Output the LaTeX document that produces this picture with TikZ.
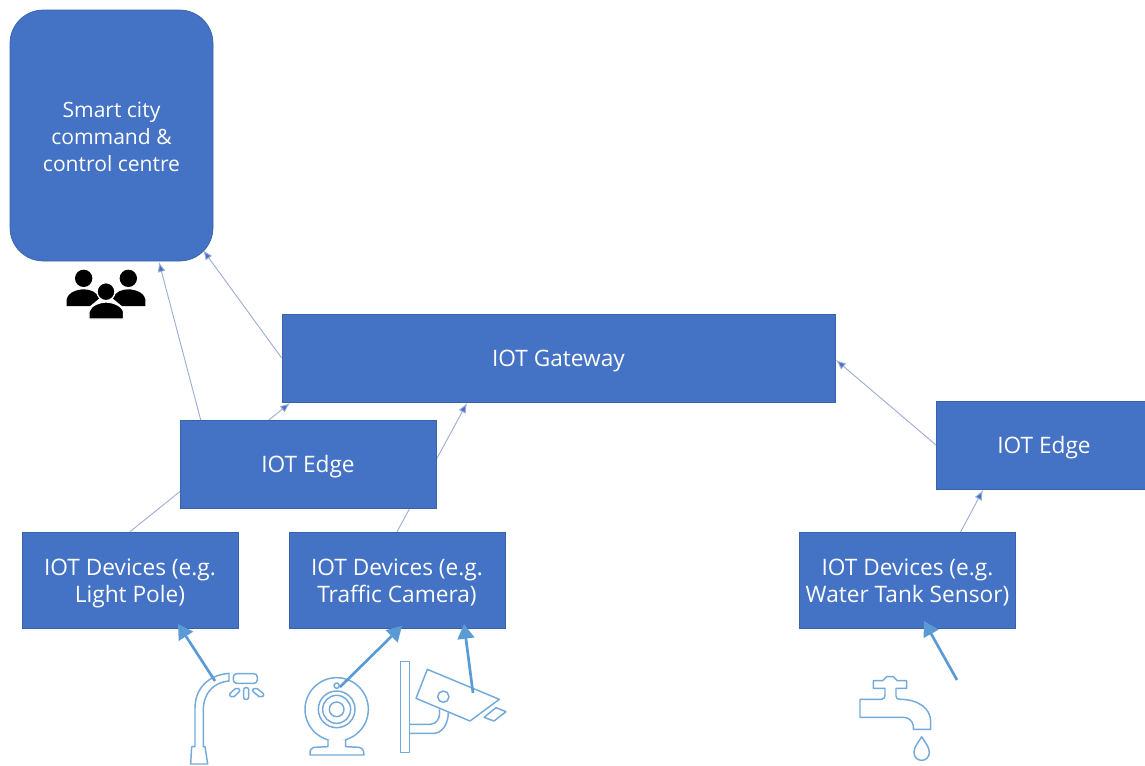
\documentclass[tikz,border=0pt]{standalone}
\usepackage{fontspec}
\setmainfont{Open Sans}
\usetikzlibrary{arrows.meta,backgrounds}
\definecolor{boxblue}{HTML}{4472C4}
\definecolor{boxline}{HTML}{3A62AB}
\definecolor{linkblue}{HTML}{9DADD6}
\definecolor{iconblue}{HTML}{5B9BD5}
\def\px{0.75pt}
\def\firstline{\rule{0pt}{17pt}}
\def\lastline{\rule[-4pt]{0pt}{4pt}}
\tikzset{
	box/.style={draw=boxline, line width=0.5pt, fill=boxblue, text=white, align=center, inner sep=0pt, font=\fontsize{17}{20.2}\selectfont},
	link/.style={draw=linkblue, line width=0.7pt, -{Latex[length=7.5pt,width=6pt,fill=boxblue]}},
	thick link/.style={draw=iconblue, line width=2pt, -{Triangle[length=11pt,width=12.5pt]}},
	icon/.style={draw=iconblue!85, line width=1.1pt, line join=round},
	zoomed/.style={shift={(#1)}, scale=1/3},
}
\begin{document}
\begin{tikzpicture}[x=\px, y=-\px]
			%%%%% START %%%%%
			\useasboundingbox (0, 0) rectangle (1145, 765);

			\node[box, font=\fontsize{15.8}{20.2}\selectfont, rounded corners=25pt, minimum width=203*\px, minimum height=251*\px] (command) at (111.5, 135.5) {\firstline Smart city\\command \&\\control centre\lastline};
			\node[box, minimum width=553*\px, minimum height=88*\px] (gateway) at (558.5, 358) {\firstline IOT Gateway\lastline};
			\node[box, minimum width=256*\px, minimum height=88*\px] (edgeleft) at (308, 464) {\firstline IOT Edge\lastline};
			\node[box, minimum width=216*\px, minimum height=88*\px] (edgeright) at (1044, 445) {\firstline IOT Edge\lastline};
			\node[box, minimum width=216*\px, minimum height=96*\px] (lightpole) at (130, 580) {\firstline IOT Devices (e.g.\\Light Pole)\lastline};
			\node[box, minimum width=216*\px, minimum height=96*\px] (traffic) at (397, 580) {\firstline IOT Devices (e.g.\\Traffic Camera)\lastline};
			\node[box, minimum width=216*\px, minimum height=96*\px] (watertank) at (907.5, 580) {\firstline IOT Devices (e.g.\\Water Tank Sensor)\lastline};

			% thin links run behind the boxes
			\coordinate (commanda) at (159, 262);
			\coordinate (commandb) at (203, 250);
			\coordinate (gatewaya) at (290, 403);
			\coordinate (gatewayb) at (467, 403);
			\coordinate (gatewayc) at (836, 360);
			\coordinate (edgerightin) at (983, 490);
			\coordinate (edgeleftout) at (201, 421);
			\coordinate (edgerightout) at (936, 445);
			\coordinate (watertankout) at (960, 533);
			\begin{pgfonlayer}{background}
				\draw[link] (edgeleftout) -- (commanda);
				\draw[link] (gateway.west) -- (commandb);
				\draw[link] (lightpole.north) -- (gatewaya);
				\draw[link] (traffic.north) -- (gatewayb);
				\draw[link] (edgerightout) -- (gatewayc);
				\draw[link] (watertankout) -- (edgerightin);
			\end{pgfonlayer}

			% people
			\begin{scope}[zoomed={0,230}]
				\fill (251, 145) circle (26);
				\fill (385, 145) circle (26);
				\fill (200, 228) -- (200, 208) .. controls (205, 185) and (235, 178) .. (251, 178) .. controls (270, 178) and (290, 185) .. (298, 205) -- (270, 228) -- cycle;
				\fill (436, 228) -- (436, 208) .. controls (431, 185) and (401, 178) .. (385, 178) .. controls (366, 178) and (346, 185) .. (338, 205) -- (366, 228) -- cycle;
				\draw[fill=black, draw=white, line width=1pt] (318, 185) circle (27);
				\draw[fill=black, draw=white, line width=1pt] (267, 267) -- (267, 245) .. controls (272, 225) and (300, 216) .. (318, 216) .. controls (336, 216) and (365, 225) .. (371, 245) -- (371, 267) -- cycle;
			\end{scope}

			% street lamp
			\begin{scope}[zoomed={170,620}]
				\draw[icon] (177, 160) .. controls (115, 165) and (75, 205) .. (75, 265) -- (75, 380) -- (65, 380) -- (62, 432) -- (113, 432) -- (105, 380) -- (100, 380) -- (100, 270) .. controls (100, 220) and (130, 187) .. (177, 183) -- cycle;
				\draw[icon, rounded corners=2.5pt] (190, 161) -- (262, 161) -- (262, 190) -- (190, 190) -- cycle;
				\draw[icon, rounded corners=1.5pt] (221, 203) rectangle (236, 238);
				\draw[icon, rounded corners=1.5pt] (200, 202) -- (212, 211) -- (188, 234) -- (176, 224) -- cycle;
				\draw[icon, rounded corners=1.5pt] (257, 202) -- (245, 211) -- (272, 234) -- (284, 224) -- cycle;
			\end{scope}

			% webcam
			\begin{scope}[zoomed={170,620}]
				\draw[icon] (500, 268) circle (95);
				\draw[icon] (500, 268) circle (55);
				\draw[icon] (500, 268) circle (42);
				\draw[icon] (500, 268) circle (22);
				\draw[icon] (500, 197) circle (8);
				\draw[icon, fill=white] (474, 358) -- (474, 380) -- (432, 382) .. controls (420, 386) and (418, 396) .. (420, 405) -- (582, 405) .. controls (584, 396) and (580, 386) .. (568, 382) -- (527, 380) -- (527, 358);
			\end{scope}

			% security camera
			\begin{scope}[zoomed={170,620}]
				\draw[icon] (692, 125) rectangle (718, 398);
				\draw[icon] (718, 313) -- (780, 313) .. controls (800, 313) and (812, 295) .. (808, 268);
				\draw[icon] (718, 340) -- (790, 340) .. controls (815, 340) and (835, 315) .. (835, 275);
				\draw[icon] (772, 148) -- (988, 238) -- (900, 303) -- (738, 235) -- cycle;
				\draw[icon] (820, 230) circle (17);
				\draw[icon] (942, 292) -- (978, 263) -- (1008, 275) -- (972, 303) -- cycle;
			\end{scope}

			% tap
			\begin{scope}[zoomed={840,620}]
				\draw[icon] (60, 238) -- (125, 238) .. controls (132, 238) and (135, 232) .. (135, 225) -- (135, 205) -- (100, 205) -- (100, 182) -- (128, 182) -- (140, 170) -- (160, 170) -- (172, 182) -- (200, 182) -- (200, 205) -- (168, 205) -- (168, 228) .. controls (168, 235) and (172, 238) .. (180, 238) .. controls (235, 238) and (272, 265) .. (272, 305) -- (272, 328) -- (220, 328) -- (220, 318) .. controls (218, 302) and (205, 292) .. (190, 292) -- (60, 292) -- cycle;
				\draw[icon] (245, 350) .. controls (235, 368) and (222, 380) .. (222, 397) .. controls (222, 412) and (233, 421) .. (245, 421) .. controls (257, 421) and (268, 412) .. (268, 397) .. controls (268, 380) and (255, 368) .. (245, 350) -- cycle;
			\end{scope}

			% thick arrows from the devices
			\coordinate (lamptop) at (215, 681);
			\coordinate (webcamtop) at (340, 687);
			\coordinate (cameratop) at (473, 693);
			\coordinate (taptop) at (957, 680);
			\coordinate (lightpolein) at (178, 624);
			\coordinate (trafficina) at (402, 626);
			\coordinate (trafficinb) at (464, 624);
			\coordinate (watertankin) at (924, 621);
			\draw[thick link] (lamptop) -- (lightpolein);
			\draw[thick link] (webcamtop) -- (trafficina);
			\draw[thick link] (cameratop) -- (trafficinb);
			\draw[thick link] (taptop) -- (watertankin);
			%%%%% END %%%%%
		\end{tikzpicture}
\end{document}
